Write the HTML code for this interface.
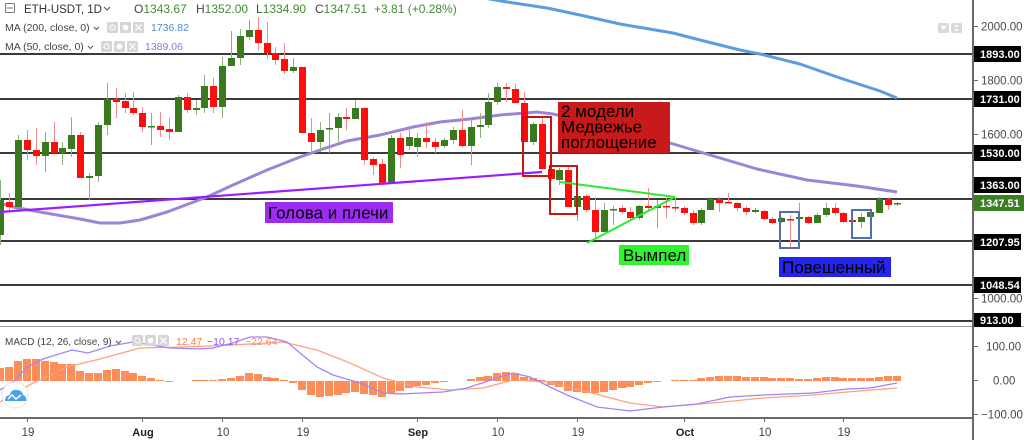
<!DOCTYPE html>
<html><head><meta charset="utf-8"><style>
html,body{margin:0;padding:0;background:#fff;}
svg{display:block;font-family:"Liberation Sans","DejaVu Sans",sans-serif;}
.gw{stroke:#8db37c;stroke-width:1}
.rw{stroke:#f58a8a;stroke-width:1}
.g{fill:#3a7a1f}
.r{fill:#ff0d0d}
.h{fill:#ff8d57}
.hl{fill:#3a3a3a}
.ax{font-size:11.5px;fill:#4a4a4a}
.bx{font-size:11px;font-weight:bold;fill:#fff}
.dt{font-size:11.5px;fill:#444;text-anchor:middle}
.mo{font-size:11px;font-weight:bold;fill:#222;text-anchor:middle}
.an{font-size:17px;fill:#000}
</style></head><body>
<svg width="1024" height="440" viewBox="0 0 1024 440" xmlns="http://www.w3.org/2000/svg">
<rect width="1024" height="440" fill="#fff"/>

<!-- horizontal price lines -->
<rect class="hl" x="0" y="53" width="974" height="2"/>
<rect class="hl" x="0" y="98" width="974" height="2"/>
<rect class="hl" x="0" y="152" width="974" height="2"/>
<rect class="hl" x="0" y="198" width="974" height="2"/>
<rect class="hl" x="0" y="240" width="974" height="2"/>
<rect class="hl" x="0" y="284" width="974" height="2"/>
<rect class="hl" x="0" y="320" width="974" height="2"/>
<rect x="0" y="326" width="1024" height="1" fill="#9a9a9a"/>

<!-- MA200 -->
<polyline fill="none" stroke="#5b9de0" stroke-width="3" stroke-linejoin="round" points="478,-3 507,2 547,8 580,15 620,24 673,33 700,40 740,50 760,54 800,64 840,78 880,91 897,98"/>
<!-- MA50 -->
<polyline fill="none" stroke="#9c84d8" stroke-width="3" stroke-linejoin="round" points="0,203 13,207 40,212 80,219 100,223 120,223 140,220 167,212 207,197 233,185 267,170 300,157 320,150 347,141 380,135 413,127 440,122 470,119 500,115 537,112 553,114 600,124 670,143 700,152 757,169 807,180 857,186 897,192"/>

<!-- candles -->
<g>
<line class="gw" x1="0.5" y1="180" x2="0.5" y2="245"/><rect class="g" x="-3" y="200" width="7" height="35"/>
<line class="rw" x1="9.5" y1="193" x2="9.5" y2="212"/><rect class="r" x="6" y="202" width="7" height="5"/>
<line class="gw" x1="18.5" y1="135" x2="18.5" y2="207"/><rect class="g" x="15" y="140" width="7" height="67"/>
<line class="rw" x1="27.5" y1="130" x2="27.5" y2="160"/><rect class="r" x="24" y="140" width="7" height="10"/>
<line class="rw" x1="36.5" y1="128" x2="36.5" y2="165"/><rect class="r" x="33" y="150" width="7" height="6"/>
<line class="gw" x1="45.5" y1="132" x2="45.5" y2="172"/><rect class="g" x="42" y="142" width="7" height="14"/>
<line class="rw" x1="54.5" y1="122" x2="54.5" y2="153"/><rect class="r" x="51" y="142" width="7" height="11"/>
<line class="gw" x1="62.5" y1="142" x2="62.5" y2="165"/><rect class="g" x="59" y="148" width="7" height="5"/>
<line class="gw" x1="71.5" y1="117" x2="71.5" y2="157"/><rect class="g" x="68" y="135" width="7" height="14"/>
<line class="rw" x1="80.5" y1="132" x2="80.5" y2="178"/><rect class="r" x="77" y="135" width="7" height="43"/>
<line class="gw" x1="89.5" y1="173" x2="89.5" y2="200"/><rect class="g" x="86" y="176" width="7" height="2"/>
<line class="gw" x1="98.5" y1="122" x2="98.5" y2="182"/><rect class="g" x="95" y="125" width="7" height="51"/>
<line class="gw" x1="107.5" y1="83" x2="107.5" y2="135"/><rect class="g" x="104" y="99" width="7" height="26"/>
<line class="rw" x1="116.5" y1="88" x2="116.5" y2="118"/><rect class="r" x="113" y="99" width="7" height="3"/>
<line class="rw" x1="125.5" y1="93" x2="125.5" y2="113"/><rect class="r" x="122" y="101" width="7" height="7"/>
<line class="rw" x1="133.5" y1="92" x2="133.5" y2="115"/><rect class="r" x="130" y="108" width="7" height="5"/>
<line class="rw" x1="142.5" y1="107" x2="142.5" y2="132"/><rect class="r" x="139" y="113" width="7" height="14"/>
<line class="gw" x1="151.5" y1="113" x2="151.5" y2="145"/><rect class="g" x="148" y="126" width="7" height="1.5"/>
<line class="rw" x1="160.5" y1="112" x2="160.5" y2="137"/><rect class="r" x="157" y="126" width="7" height="4"/>
<line class="rw" x1="169.5" y1="118" x2="169.5" y2="140"/><rect class="r" x="166" y="129" width="7" height="3"/>
<line class="gw" x1="178.5" y1="95" x2="178.5" y2="132"/><rect class="g" x="175" y="97" width="7" height="35"/>
<line class="rw" x1="187.5" y1="93" x2="187.5" y2="113"/><rect class="r" x="184" y="97" width="7" height="13"/>
<line class="gw" x1="196.5" y1="100" x2="196.5" y2="115"/><rect class="g" x="193" y="108" width="7" height="2"/>
<line class="gw" x1="204.5" y1="75" x2="204.5" y2="113"/><rect class="g" x="201" y="86" width="7" height="22"/>
<line class="rw" x1="213.5" y1="78" x2="213.5" y2="113"/><rect class="r" x="210" y="86" width="7" height="21"/>
<line class="gw" x1="222.5" y1="57" x2="222.5" y2="118"/><rect class="g" x="219" y="66" width="7" height="41"/>
<line class="gw" x1="231.5" y1="31" x2="231.5" y2="66"/><rect class="g" x="228" y="58" width="7" height="8"/>
<line class="gw" x1="240.5" y1="29" x2="240.5" y2="65"/><rect class="g" x="237" y="36" width="7" height="22"/>
<line class="gw" x1="249.5" y1="20" x2="249.5" y2="40"/><rect class="g" x="246" y="30" width="7" height="7"/>
<line class="rw" x1="258.5" y1="17" x2="258.5" y2="50"/><rect class="r" x="255" y="30" width="7" height="13"/>
<line class="rw" x1="267.5" y1="22" x2="267.5" y2="59"/><rect class="r" x="264" y="43" width="7" height="10"/>
<line class="rw" x1="275.5" y1="47" x2="275.5" y2="65"/><rect class="r" x="272" y="53" width="7" height="7"/>
<line class="rw" x1="284.5" y1="43" x2="284.5" y2="74"/><rect class="r" x="281" y="59" width="7" height="12"/>
<line class="gw" x1="293.5" y1="58" x2="293.5" y2="73"/><rect class="g" x="290" y="67" width="7" height="4"/>
<line class="rw" x1="302.5" y1="67" x2="302.5" y2="133"/><rect class="r" x="299" y="67" width="7" height="66"/>
<line class="rw" x1="311.5" y1="118" x2="311.5" y2="152"/><rect class="r" x="308" y="133" width="7" height="9"/>
<line class="gw" x1="320.5" y1="122" x2="320.5" y2="152"/><rect class="g" x="317" y="130" width="7" height="12"/>
<line class="gw" x1="329.5" y1="113" x2="329.5" y2="153"/><rect class="g" x="326" y="128" width="7" height="1.5"/>
<line class="gw" x1="338.5" y1="113" x2="338.5" y2="143"/><rect class="g" x="335" y="117" width="7" height="11"/>
<line class="rw" x1="346.5" y1="108" x2="346.5" y2="130"/><rect class="r" x="343" y="117" width="7" height="2"/>
<line class="gw" x1="355.5" y1="100" x2="355.5" y2="119"/><rect class="g" x="352" y="108" width="7" height="11"/>
<line class="rw" x1="364.5" y1="107" x2="364.5" y2="165"/><rect class="r" x="361" y="108" width="7" height="52"/>
<line class="rw" x1="373.5" y1="157" x2="373.5" y2="175"/><rect class="r" x="370" y="159" width="7" height="6"/>
<line class="rw" x1="382.5" y1="159" x2="382.5" y2="185"/><rect class="r" x="379" y="164" width="7" height="19"/>
<line class="gw" x1="391.5" y1="135" x2="391.5" y2="183"/><rect class="g" x="388" y="138" width="7" height="45"/>
<line class="rw" x1="400.5" y1="133" x2="400.5" y2="168"/><rect class="r" x="397" y="138" width="7" height="17"/>
<line class="gw" x1="409.5" y1="128" x2="409.5" y2="150"/><rect class="g" x="406" y="137" width="7" height="9"/>
<line class="gw" x1="417.5" y1="133" x2="417.5" y2="157"/><rect class="g" x="414" y="138" width="7" height="9"/>
<line class="rw" x1="426.5" y1="122" x2="426.5" y2="148"/><rect class="r" x="423" y="138" width="7" height="4"/>
<line class="rw" x1="435.5" y1="138" x2="435.5" y2="153"/><rect class="r" x="432" y="142" width="7" height="5"/>
<line class="gw" x1="444.5" y1="138" x2="444.5" y2="148"/><rect class="g" x="441" y="140" width="7" height="6"/>
<line class="gw" x1="453.5" y1="127" x2="453.5" y2="144"/><rect class="g" x="450" y="130" width="7" height="10"/>
<line class="rw" x1="462.5" y1="110" x2="462.5" y2="147"/><rect class="r" x="459" y="130" width="7" height="16"/>
<line class="gw" x1="471.5" y1="119" x2="471.5" y2="165"/><rect class="g" x="468" y="127" width="7" height="19"/>
<line class="gw" x1="480.5" y1="113" x2="480.5" y2="138"/><rect class="g" x="477" y="125" width="7" height="2"/>
<line class="gw" x1="488.5" y1="93" x2="488.5" y2="128"/><rect class="g" x="485" y="102" width="7" height="23"/>
<line class="gw" x1="497.5" y1="83" x2="497.5" y2="105"/><rect class="g" x="494" y="87" width="7" height="15"/>
<line class="rw" x1="506.5" y1="83" x2="506.5" y2="102"/><rect class="r" x="503" y="87" width="7" height="2"/>
<line class="rw" x1="515.5" y1="84" x2="515.5" y2="103"/><rect class="r" x="512" y="89" width="7" height="14"/>
<line class="rw" x1="524.5" y1="92" x2="524.5" y2="142"/><rect class="r" x="521" y="103" width="7" height="39"/>
<line class="gw" x1="533.5" y1="122" x2="533.5" y2="145"/><rect class="g" x="530" y="124" width="7" height="18"/>
<line class="rw" x1="542.5" y1="118" x2="542.5" y2="169"/><rect class="r" x="539" y="124" width="7" height="45"/>
<line class="rw" x1="551.5" y1="166" x2="551.5" y2="181"/><rect class="r" x="548" y="169" width="7" height="10"/>
<line class="gw" x1="559.5" y1="168" x2="559.5" y2="185"/><rect class="g" x="556" y="170" width="7" height="10"/>
<line class="rw" x1="568.5" y1="166" x2="568.5" y2="207"/><rect class="r" x="565" y="170" width="7" height="37"/>
<line class="gw" x1="577.5" y1="193" x2="577.5" y2="221"/><rect class="g" x="574" y="196" width="7" height="11"/>
<line class="rw" x1="586.5" y1="194" x2="586.5" y2="212"/><rect class="r" x="583" y="196" width="7" height="14"/>
<line class="rw" x1="595.5" y1="197" x2="595.5" y2="238"/><rect class="r" x="592" y="210" width="7" height="22"/>
<line class="gw" x1="604.5" y1="203" x2="604.5" y2="232"/><rect class="g" x="601" y="210" width="7" height="22"/>
<line class="gw" x1="613.5" y1="206" x2="613.5" y2="225"/><rect class="g" x="610" y="209" width="7" height="1.5"/>
<line class="rw" x1="622.5" y1="205" x2="622.5" y2="214"/><rect class="r" x="619" y="208" width="7" height="4"/>
<line class="rw" x1="630.5" y1="207" x2="630.5" y2="220"/><rect class="r" x="627" y="212" width="7" height="6"/>
<line class="gw" x1="639.5" y1="205" x2="639.5" y2="220"/><rect class="g" x="636" y="206" width="7" height="12"/>
<line class="rw" x1="648.5" y1="188" x2="648.5" y2="210"/><rect class="r" x="645" y="206" width="7" height="2"/>
<line class="gw" x1="657.5" y1="200" x2="657.5" y2="228"/><rect class="g" x="654" y="206" width="7" height="2"/>
<line class="rw" x1="666.5" y1="197" x2="666.5" y2="218"/><rect class="r" x="663" y="206" width="7" height="1.5"/>
<line class="rw" x1="675.5" y1="198" x2="675.5" y2="212"/><rect class="r" x="672" y="207" width="7" height="1.5"/>
<line class="rw" x1="684.5" y1="206" x2="684.5" y2="215"/><rect class="r" x="681" y="208" width="7" height="5"/>
<line class="rw" x1="693.5" y1="210" x2="693.5" y2="225"/><rect class="r" x="690" y="213" width="7" height="10"/>
<line class="gw" x1="701.5" y1="208" x2="701.5" y2="225"/><rect class="g" x="698" y="210" width="7" height="13"/>
<line class="gw" x1="710.5" y1="197" x2="710.5" y2="210"/><rect class="g" x="707" y="199" width="7" height="11"/>
<line class="rw" x1="719.5" y1="197" x2="719.5" y2="212"/><rect class="r" x="716" y="199" width="7" height="4"/>
<line class="rw" x1="728.5" y1="193" x2="728.5" y2="203"/><rect class="r" x="725" y="202" width="7" height="1.5"/>
<line class="rw" x1="737.5" y1="202" x2="737.5" y2="211"/><rect class="r" x="734" y="203" width="7" height="5"/>
<line class="rw" x1="746.5" y1="206" x2="746.5" y2="215"/><rect class="r" x="743" y="208" width="7" height="4"/>
<line class="gw" x1="755.5" y1="208" x2="755.5" y2="213"/><rect class="g" x="752" y="210" width="7" height="2"/>
<line class="rw" x1="764.5" y1="210" x2="764.5" y2="220"/><rect class="r" x="761" y="211" width="7" height="8"/>
<line class="rw" x1="772.5" y1="217" x2="772.5" y2="224"/><rect class="r" x="769" y="219" width="7" height="4"/>
<line class="gw" x1="781.5" y1="217" x2="781.5" y2="223"/><rect class="g" x="778" y="218" width="7" height="4"/>
<line class="rw" x1="790.5" y1="215" x2="790.5" y2="247"/><rect class="r" x="787" y="219" width="7" height="1.5"/>
<line class="gw" x1="799.5" y1="203" x2="799.5" y2="220"/><rect class="g" x="796" y="217" width="7" height="2"/>
<line class="rw" x1="808.5" y1="216" x2="808.5" y2="224"/><rect class="r" x="805" y="217" width="7" height="6"/>
<line class="gw" x1="817.5" y1="213" x2="817.5" y2="223"/><rect class="g" x="814" y="215" width="7" height="8"/>
<line class="gw" x1="826.5" y1="203" x2="826.5" y2="217"/><rect class="g" x="823" y="208" width="7" height="7"/>
<line class="rw" x1="835.5" y1="203" x2="835.5" y2="215"/><rect class="r" x="832" y="208" width="7" height="5"/>
<line class="rw" x1="843.5" y1="212" x2="843.5" y2="223"/><rect class="r" x="840" y="213" width="7" height="9"/>
<line class="rw" x1="852.5" y1="210" x2="852.5" y2="223"/><rect class="r" x="849" y="220" width="7" height="2"/>
<line class="gw" x1="861.5" y1="213" x2="861.5" y2="228"/><rect class="g" x="858" y="217" width="7" height="5"/>
<line class="gw" x1="870.5" y1="211" x2="870.5" y2="217"/><rect class="g" x="867" y="212" width="7" height="5"/>
<line class="gw" x1="879.5" y1="197" x2="879.5" y2="213"/><rect class="g" x="876" y="199" width="7" height="14"/>
<line class="rw" x1="888.5" y1="197" x2="888.5" y2="210"/><rect class="r" x="885" y="199" width="7" height="6"/>
<line class="gw" x1="897.5" y1="202" x2="897.5" y2="206"/><rect class="g" x="894" y="203" width="7" height="1.5"/>
</g>

<!-- neckline -->
<line x1="0" y1="212" x2="542" y2="172" stroke="#9b1cff" stroke-width="2.2"/>
<!-- pennant -->
<line x1="560" y1="182" x2="675" y2="197" stroke="#2eea2e" stroke-width="2"/>
<line x1="587" y1="243" x2="675" y2="197" stroke="#2eea2e" stroke-width="2"/>

<!-- red frames -->
<rect x="523" y="117" width="28" height="59" fill="none" stroke="#c81414" stroke-width="2"/>
<rect x="550" y="166" width="27" height="48" fill="none" stroke="#c81414" stroke-width="2"/>
<!-- blue frames -->
<rect x="780" y="212" width="19" height="36" fill="none" stroke="#4f6fb0" stroke-width="2"/>
<rect x="852" y="210" width="19" height="28" fill="none" stroke="#4f6fb0" stroke-width="2"/>

<!-- annotation boxes -->
<rect x="265" y="202" width="128" height="21" fill="#9d2bf3"/>
<text class="an" x="268" y="218.5">Голова и плечи</text>
<rect x="558" y="102" width="112" height="51" fill="#c81a1a"/>
<text class="an" x="561" y="117">2 модели</text>
<text class="an" x="561" y="132.5">Медвежье</text>
<text class="an" x="561" y="148">поглощение</text>
<rect x="619" y="245" width="70" height="20" fill="#2ef52e"/>
<text class="an" x="623" y="261">Вымпел</text>
<rect x="779" y="257" width="112" height="20" fill="#2424ee"/>
<text class="an" x="782" y="273">Повешенный</text>

<!-- MACD histogram -->
<g class="h">
<rect x="-4" y="368" width="8" height="13"/><rect x="5" y="367" width="8" height="14"/><rect x="14" y="361" width="8" height="20"/><rect x="23" y="359" width="8" height="22"/><rect x="32" y="359" width="8" height="22"/><rect x="41" y="361" width="8" height="20"/><rect x="50" y="362" width="8" height="19"/><rect x="58" y="364" width="8" height="17"/><rect x="67" y="364" width="8" height="17"/><rect x="76" y="371" width="8" height="10"/><rect x="85" y="373" width="8" height="8"/><rect x="94" y="373" width="8" height="8"/><rect x="103" y="370" width="8" height="11"/><rect x="112" y="369" width="8" height="12"/><rect x="121" y="371" width="8" height="10"/><rect x="129" y="373" width="8" height="8"/><rect x="138" y="376" width="8" height="5"/><rect x="147" y="378" width="8" height="3"/><rect x="156" y="380" width="8" height="1"/><rect x="165" y="381" width="8" height="1"/>
<rect x="192" y="380" width="8" height="1"/><rect x="200" y="380" width="8" height="1"/><rect x="209" y="380" width="8" height="1"/><rect x="218" y="379" width="8" height="2"/><rect x="227" y="378" width="8" height="3"/><rect x="236" y="376" width="8" height="5"/><rect x="245" y="373" width="8" height="8"/><rect x="254" y="374" width="8" height="7"/><rect x="263" y="377" width="8" height="4"/><rect x="271" y="378" width="8" height="3"/><rect x="280" y="380" width="8" height="1"/>
<rect x="289" y="381" width="8" height="2"/><rect x="298" y="381" width="8" height="9"/><rect x="307" y="381" width="8" height="14"/><rect x="316" y="381" width="8" height="16"/><rect x="325" y="381" width="8" height="15"/><rect x="334" y="381" width="8" height="14"/><rect x="342" y="381" width="8" height="12"/><rect x="351" y="381" width="8" height="11"/><rect x="360" y="381" width="8" height="13"/><rect x="369" y="381" width="8" height="14"/><rect x="378" y="381" width="8" height="16"/><rect x="387" y="381" width="8" height="12"/><rect x="396" y="381" width="8" height="10"/><rect x="405" y="381" width="8" height="7"/><rect x="413" y="381" width="8" height="5"/><rect x="422" y="381" width="8" height="4"/><rect x="431" y="381" width="8" height="2"/><rect x="440" y="381" width="8" height="1"/>
<rect x="467" y="379" width="8" height="2"/><rect x="476" y="377" width="8" height="4"/><rect x="484" y="376" width="8" height="5"/><rect x="493" y="373" width="8" height="8"/><rect x="502" y="372" width="8" height="9"/><rect x="511" y="373" width="8" height="8"/><rect x="520" y="377" width="8" height="4"/><rect x="529" y="378" width="8" height="3"/><rect x="538" y="380" width="8" height="1"/>
<rect x="547" y="381" width="8" height="4"/><rect x="555" y="381" width="8" height="6"/><rect x="564" y="381" width="8" height="10"/><rect x="573" y="381" width="8" height="11"/><rect x="582" y="381" width="8" height="12"/><rect x="591" y="381" width="8" height="12"/><rect x="600" y="381" width="8" height="11"/><rect x="609" y="381" width="8" height="9"/><rect x="618" y="381" width="8" height="7"/><rect x="626" y="381" width="8" height="6"/><rect x="635" y="381" width="8" height="4"/><rect x="644" y="381" width="8" height="2"/><rect x="653" y="381" width="8" height="1"/>
<rect x="671" y="380" width="8" height="1"/><rect x="680" y="380" width="8" height="1"/><rect x="689" y="380" width="8" height="1"/><rect x="697" y="378" width="8" height="3"/><rect x="706" y="377" width="8" height="4"/><rect x="715" y="376" width="8" height="5"/><rect x="724" y="376" width="8" height="5"/><rect x="733" y="376" width="8" height="5"/><rect x="742" y="377" width="8" height="4"/><rect x="751" y="377" width="8" height="4"/><rect x="760" y="377" width="8" height="4"/><rect x="768" y="378" width="8" height="3"/><rect x="777" y="378" width="8" height="3"/><rect x="786" y="378" width="8" height="3"/><rect x="795" y="379" width="8" height="2"/><rect x="804" y="379" width="8" height="2"/><rect x="813" y="378" width="8" height="3"/><rect x="822" y="377" width="8" height="4"/><rect x="831" y="377" width="8" height="4"/><rect x="839" y="378" width="8" height="3"/><rect x="848" y="378" width="8" height="3"/><rect x="857" y="378" width="8" height="3"/><rect x="866" y="378" width="8" height="3"/><rect x="875" y="377" width="8" height="4"/><rect x="884" y="376" width="8" height="5"/><rect x="893" y="376" width="8" height="5"/>
</g>
<!-- MACD lines -->
<polyline fill="none" stroke="#ffa27f" stroke-width="1.3" points="0,402 33,383 67,367 100,359 140,348 183,347 233,345 283,342 317,350 350,363 383,378 417,387 450,390 483,388 513,380 547,382 580,390 630,403 663,407 713,403 763,398 813,395 847,392 897,388"/>
<polyline fill="none" stroke="#a184fb" stroke-width="1.3" points="0,390 13,382 27,367 43,359 72,350 88,353 110,346 133,342 170,348 200,349 213,348 233,343 250,337 267,337 287,342 300,353 317,367 333,375 360,383 383,393 400,394 443,392 467,388 500,377 513,373 530,377 550,387 567,395 597,407 630,411 663,407 697,404 730,397 763,395 813,393 847,389 870,388 897,383"/>

<!-- TV logo -->
<circle cx="15" cy="395" r="13" fill="#fff" stroke="#e3e3e3" stroke-width="1"/>
<path d="M5,401 Q5,395 10,395 Q11,389 17,390 Q22,390 23,395 Q27,396 26,401 Z" fill="#4aa2e6"/>
<polyline points="8,399 12,395 16,399 21,395" fill="none" stroke="#fff" stroke-width="1.5"/>

<!-- bottom axis -->
<rect x="0" y="417" width="974" height="2" fill="#6a6a6a"/>
<g stroke="#6a6a6a" stroke-width="1">
<line x1="27.5" y1="419" x2="27.5" y2="422"/><line x1="142.5" y1="419" x2="142.5" y2="422"/><line x1="222.5" y1="419" x2="222.5" y2="422"/><line x1="302.5" y1="419" x2="302.5" y2="422"/><line x1="417.5" y1="419" x2="417.5" y2="422"/><line x1="497.5" y1="419" x2="497.5" y2="422"/><line x1="577.5" y1="419" x2="577.5" y2="422"/><line x1="684.5" y1="419" x2="684.5" y2="422"/><line x1="764.5" y1="419" x2="764.5" y2="422"/><line x1="843.5" y1="419" x2="843.5" y2="422"/>
</g>
<text class="dt" x="28" y="436">19</text>
<text class="mo" x="143" y="436">Aug</text>
<text class="dt" x="223" y="436">10</text>
<text class="dt" x="303" y="436">19</text>
<text class="mo" x="418" y="436">Sep</text>
<text class="dt" x="498" y="436">10</text>
<text class="dt" x="578" y="436">19</text>
<text class="mo" x="685" y="436">Oct</text>
<text class="dt" x="765" y="436">10</text>
<text class="dt" x="844" y="436">19</text>

<!-- right axis -->
<rect x="972" y="0" width="2" height="440" fill="#6a6a6a"/>
<g stroke="#6a6a6a" stroke-width="1">
<line x1="974" y1="26.5" x2="978" y2="26.5"/><line x1="974" y1="80.5" x2="978" y2="80.5"/><line x1="974" y1="134.5" x2="978" y2="134.5"/><line x1="974" y1="298.5" x2="978" y2="298.5"/><line x1="974" y1="346.5" x2="978" y2="346.5"/><line x1="974" y1="380.5" x2="978" y2="380.5"/><line x1="974" y1="414.5" x2="978" y2="414.5"/>
</g>
<text class="ax" x="981" y="30.5">2000.00</text>
<text class="ax" x="981" y="84.5">1800.00</text>
<text class="ax" x="981" y="138.5">1600.00</text>
<text class="ax" x="981" y="302.5">1000.00</text>
<text class="ax" x="986" y="350.5">100.00</text>
<text class="ax" x="993" y="384.5">0.00</text>
<text class="ax" x="981" y="418.5">−100.00</text>

<rect x="974" y="46" width="47" height="16" fill="#000"/><text class="bx" x="980" y="58">1893.00</text>
<rect x="974" y="91" width="47" height="16" fill="#000"/><text class="bx" x="980" y="103">1731.00</text>
<rect x="974" y="145" width="47" height="16" fill="#000"/><text class="bx" x="980" y="157">1530.00</text>
<rect x="974" y="177" width="47" height="16" fill="#000"/><text class="bx" x="980" y="189">1363.00</text>
<rect x="974" y="195" width="50" height="16" fill="#3a7d22"/><text class="bx" x="980" y="207">1347.51</text>
<rect x="974" y="234" width="47" height="16" fill="#000"/><text class="bx" x="980" y="246">1207.95</text>
<rect x="974" y="277" width="47" height="16" fill="#000"/><text class="bx" x="980" y="289">1048.54</text>
<rect x="974" y="313" width="47" height="14" fill="#000"/><text class="bx" x="980" y="324">913.00</text>

<!-- top-right buttons -->
<rect x="938" y="23" width="11" height="10" rx="2" fill="#d9d9d9"/>
<rect x="951" y="23" width="11" height="10" rx="2" fill="#d9d9d9"/>
<path d="M940.5,26 L946.5,26 L943.5,30 Z" fill="#fff"/>
<path d="M954,27 L956.5,24.5 L959,27 Z M954,29 L956.5,31.5 L959,29 Z" fill="#fff"/>

<!-- legend -->
<rect x="5.5" y="3.5" width="9" height="9" fill="none" stroke="#777" stroke-width="1" rx="1"/>
<line x1="7" y1="8" x2="13" y2="8" stroke="#777"/>
<text x="24" y="13" font-size="11.5" fill="#333">ETH-USDT, 1D</text>
<path d="M104,7 L107,10 L110,7" fill="none" stroke="#555" stroke-width="1"/>
<text y="13" font-size="12" fill="#444"><tspan x="134">O</tspan><tspan fill="#3f8d2f">1343.67</tspan><tspan x="196">H</tspan><tspan fill="#3f8d2f">1352.00</tspan><tspan x="256">L</tspan><tspan fill="#3f8d2f">1334.90</tspan><tspan x="315">C</tspan><tspan fill="#3f8d2f">1347.51</tspan><tspan x="374" fill="#3f8d2f">+3.81 (+0.28%)</tspan></text>

<text x="5" y="31" font-size="10.5" fill="#444">MA (200, close, 0)</text>
<path d="M94,27 L96.5,29.5 L99,27" fill="none" stroke="#555" stroke-width="1"/>
<rect x="107" y="22" width="11" height="11" rx="1.5" fill="#d6d6d6"/><rect x="120" y="22" width="11" height="11" rx="1.5" fill="#d6d6d6"/><rect x="133" y="22" width="11" height="11" rx="1.5" fill="#d6d6d6"/>
<circle cx="112.5" cy="27.5" r="2.5" fill="none" stroke="#fff"/><circle cx="125.5" cy="27.5" r="2.8" fill="#fff"/><path d="M135.5,24.5 L141.5,30.5 M141.5,24.5 L135.5,30.5" stroke="#fff" stroke-width="1.3"/>
<text x="151" y="31" font-size="10.5" fill="#4a8fdc">1736.82</text>

<text x="5" y="50" font-size="10.5" fill="#444">MA (50, close, 0)</text>
<path d="M88,46 L90.5,48.5 L93,46" fill="none" stroke="#555" stroke-width="1"/>
<rect x="101" y="41" width="11" height="11" rx="1.5" fill="#d6d6d6"/><rect x="114" y="41" width="11" height="11" rx="1.5" fill="#d6d6d6"/><rect x="127" y="41" width="11" height="11" rx="1.5" fill="#d6d6d6"/>
<circle cx="106.5" cy="46.5" r="2.5" fill="none" stroke="#fff"/><circle cx="119.5" cy="46.5" r="2.8" fill="#fff"/><path d="M129.5,43.5 L135.5,49.5 M135.5,43.5 L129.5,49.5" stroke="#fff" stroke-width="1.3"/>
<text x="145" y="50" font-size="10.5" fill="#9575d6">1389.06</text>

<text x="5" y="345" font-size="10" fill="#444">MACD (12, 26, close, 9)</text>
<path d="M116,341 L118.5,343.5 L121,341" fill="none" stroke="#555" stroke-width="1"/>
<rect x="132" y="335" width="11" height="11" rx="1.5" fill="#d6d6d6"/><rect x="145" y="335" width="11" height="11" rx="1.5" fill="#d6d6d6"/><rect x="158" y="335" width="11" height="11" rx="1.5" fill="#d6d6d6"/>
<circle cx="137.5" cy="340.5" r="2.5" fill="none" stroke="#fff"/><circle cx="150.5" cy="340.5" r="2.8" fill="#fff"/><path d="M160.5,337.5 L166.5,343.5 M166.5,337.5 L160.5,343.5" stroke="#fff" stroke-width="1.3"/>
<text x="176" y="345" font-size="10.5" fill="#ff7a45">12.47</text>
<text x="207" y="345" font-size="10.5" fill="#8a5cf6">−10.17</text>
<text x="245" y="345" font-size="10.5" fill="#ff8a60">−22.64</text>
</svg>
</body></html>
